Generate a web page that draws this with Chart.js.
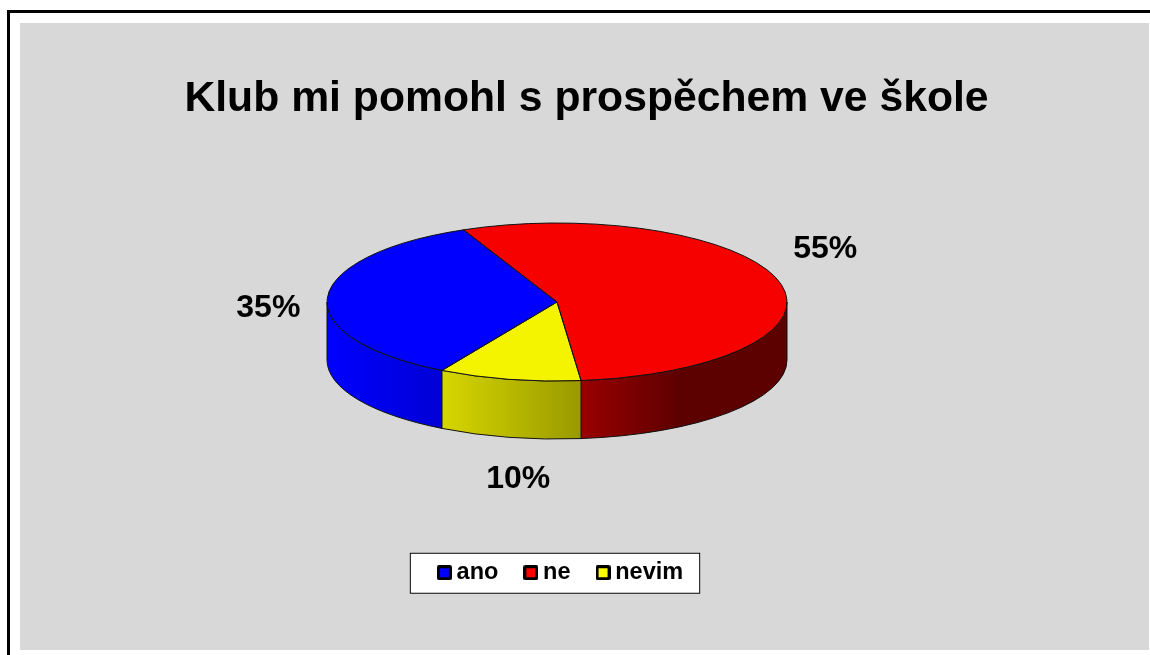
<!DOCTYPE html>
<html lang="cs">
<head>
<meta charset="utf-8">
<title>Klub mi pomohl s prospěchem ve škole</title>
<script src="https://cdn.jsdelivr.net/npm/chart.js@4"></script>
<style>
  html, body { margin: 0; height: 100%; background: #fff; overflow: hidden; }
  #frame { position: absolute; left: 7px; top: 10px; right: 0; bottom: 0; border-left: 3px solid #000; border-top: 3px solid #000; }
  #myChart { position: absolute; left: 20px; top: 23px; background: #d8d8d8; }
</style>
</head>
<body>
<div id="frame"></div>
<canvas id="myChart" width="1129" height="627"></canvas>
<script>
/* Data */
const categories = ['ano', 'ne', 'nevim'];
const values = [35, 55, 10];
const chartTitle = 'Klub mi pomohl s prospěchem ve škole';

/* Colours */
const topColors = ['#0000ff', '#f60000', '#f4f400'];
const legendColors = ['#0000ff', '#ff0000', '#ffff00'];
const sideRgb = [[0, 0, 255], [255, 0, 0], [255, 255, 0]];
// shade of the rim from left to right: [x position 0-1, brightness]
const sideShade = [[0, 1], [0.25, 0.84], [0.553, 0.6], [0.77, 0.36], [1, 0.36]];

/* 3D look */
const pieX = 537;       // centre of the top face, canvas px
const pieY = 279;
const pieRadius = 230;
const squash = 79 / 230;
const depth = 58;

// nudge of each % label from the edge of its slice, px
const labelNudge = [[-59, 10], [46, -32], [9, 100]];

function swatch(color) {
  const c = document.createElement('canvas');
  c.width = 15;
  c.height = 15;
  const g = c.getContext('2d');
  g.fillStyle = '#000';
  g.beginPath();
  g.roundRect(0, 0, 15, 15, 2);
  g.fill();
  g.fillStyle = color;
  g.fillRect(3, 3, 9, 9);
  return c;
}

function toPie(ctx, arc) {
  ctx.translate(pieX, pieY);
  ctx.scale(1, squash);
  ctx.translate(-arc.x, -arc.y);
}

function drawRim(chart) {
  const ctx = chart.ctx;
  chart.getDatasetMeta(0).data.forEach((arc, i) => {
    // only the part of the slice that faces the viewer
    for (let k = -2; k <= 2; k++) {
      const a = Math.max(arc.startAngle + k * 2 * Math.PI, 0);
      const b = Math.min(arc.endAngle + k * 2 * Math.PI, Math.PI);
      if (b <= a) continue;

      const x0 = pieX - pieRadius;
      const grad = ctx.createLinearGradient(x0, 0, pieX + pieRadius, 0);
      sideShade.forEach(s => {
        const c = sideRgb[i].map(v => Math.round(v * s[1]));
        grad.addColorStop(s[0], `rgb(${c[0]},${c[1]},${c[2]})`);
      });

      ctx.save();
      ctx.beginPath();
      ctx.ellipse(pieX, pieY, pieRadius, pieRadius * squash, 0, a, b);
      ctx.ellipse(pieX, pieY + depth, pieRadius, pieRadius * squash, 0, b, a, true);
      ctx.closePath();
      ctx.fillStyle = grad;
      ctx.fill();
      ctx.lineWidth = 1;
      ctx.strokeStyle = '#111';
      ctx.stroke();
      ctx.restore();
    }
  });
}

const pie3d = {
  id: 'pie3d',
  afterLayout(chart) {
    // title sits in the middle of the grey area, legend under the pie
    chart.titleBlock.left += 23;
    chart.titleBlock.right += 23;
  },
  beforeDraw(chart) {
    // white legend box
    const boxes = chart.legend.legendHitBoxes;
    const ctx = chart.ctx;
    const last = boxes[boxes.length - 1];
    const left = boxes[0].left - 34;
    const right = last.left + last.width + 17;
    const mid = boxes[0].top + boxes[0].height / 2;
    ctx.save();
    ctx.fillStyle = '#fff';
    ctx.strokeStyle = '#000';
    ctx.lineWidth = 1;
    ctx.fillRect(left, mid - 20, right - left, 41);
    ctx.strokeRect(left + 0.5, mid - 19.5, right - left - 1, 40);
    ctx.restore();
  },
  beforeDatasetsDraw(chart) {
    drawRim(chart);
    const arc = chart.getDatasetMeta(0).data[0];
    chart.ctx.save();
    toPie(chart.ctx, arc);
  },
  afterDatasetsDraw(chart) {
    const ctx = chart.ctx;
    ctx.restore();

    const arcs = chart.getDatasetMeta(0).data;
    arcs.forEach((arc, i) => {
      // outline, path squashed but line not
      ctx.save();
      ctx.save();
      toPie(ctx, arc);
      ctx.beginPath();
      ctx.moveTo(arc.x, arc.y);
      ctx.arc(arc.x, arc.y, arc.outerRadius, arc.startAngle, arc.endAngle);
      ctx.closePath();
      ctx.restore();
      ctx.lineWidth = 1;
      ctx.strokeStyle = '#111';
      ctx.stroke();
      ctx.restore();

      // % label
      const mid = (arc.startAngle + arc.endAngle) / 2;
      const lx = pieX + Math.cos(mid) * pieRadius + labelNudge[i][0];
      const ly = pieY + Math.sin(mid) * pieRadius * squash + labelNudge[i][1];
      ctx.save();
      ctx.font = 'bold 32px "Liberation Sans"';
      ctx.fillStyle = '#000';
      ctx.textAlign = 'center';
      ctx.textBaseline = 'middle';
      ctx.fillText(values[i] + '%', lx, ly);
      ctx.restore();
    });
  }
};

/* Chart */
const ctx = document.getElementById('myChart');

new Chart(ctx, {
  type: 'pie',
  plugins: [pie3d],
  data: {
    labels: categories,
    datasets: [{
      data: values,
      backgroundColor: topColors,
      borderWidth: 0,
      radius: pieRadius,
      rotation: -150,
      clip: false,
    }]
  },
  options: {
    responsive: false,
    animation: false,
    layout: {
      padding: { right: 42, bottom: 55.5 }
    },
    plugins: {
      tooltip: { enabled: false },
      title: {
        display: true,
        text: chartTitle,
        color: '#000',
        font: { family: '"Liberation Sans"', size: 42.7, weight: 'bold' },
        padding: { top: 51, bottom: 20 },
      },
      legend: {
        position: 'bottom',
        fullSize: false,
        labels: {
          color: '#000',
          font: { family: '"Liberation Sans"', size: 23.5, weight: 'bold' },
          usePointStyle: true,
          boxWidth: 1,
          boxHeight: 15,
          padding: 32,
          generateLabels() {
            return categories.map((name, i) => ({
              text: name,
              index: i,
              fontColor: '#000',
              pointStyle: swatch(legendColors[i]),
            }));
          }
        }
      }
    }
  }
});
</script>
</body>
</html>
